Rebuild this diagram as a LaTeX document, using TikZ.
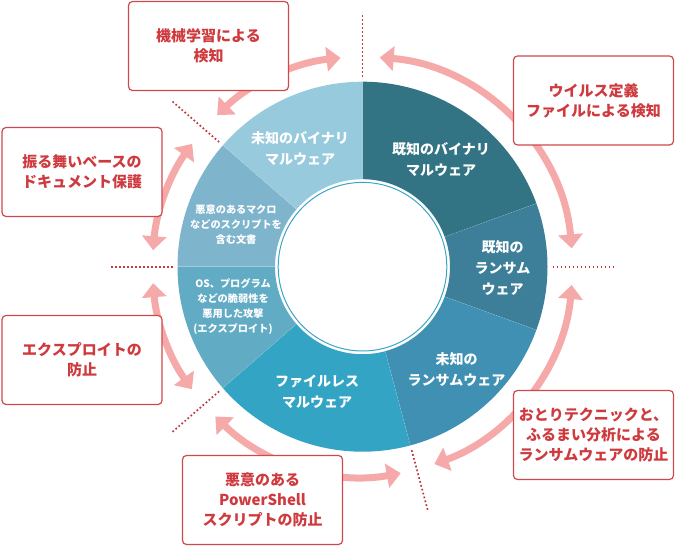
\documentclass[tikz,border=0pt]{standalone}
\usepackage{fontspec}
\setmainfont{Noto Sans CJK JP}
\usetikzlibrary{arrows.meta}
\definecolor{ckb}{HTML}{327384}
\definecolor{ckr}{HTML}{3D7E99}
\definecolor{cur}{HTML}{3F90B3}
\definecolor{cfl}{HTML}{33A4C4}
\definecolor{cos}{HTML}{62ABC5}
\definecolor{cmc}{HTML}{7FB4CD}
\definecolor{cub}{HTML}{98CADD}
\definecolor{ring}{HTML}{3AA6C6}
\definecolor{pinkarrow}{HTML}{F5A9A9}
\definecolor{boxred}{HTML}{D0484C}
\definecolor{textred}{HTML}{CF3A3E}
\definecolor{dotred}{HTML}{C0393D}
\tikzset{
  box/.style={draw=boxred, line width=1.2pt, fill=white, rounded corners=4pt,
    text=textred, font=\bfseries\fontsize{15}{20}\selectfont, align=center,
    inner sep=0pt, minimum width=160pt, minimum height=89pt},
  seglabel/.style={text=white, font=\bfseries\fontsize{14}{21}\selectfont, align=center, inner sep=0pt},
  smalllabel/.style={text=white, font=\bfseries\fontsize{10.2}{15}\selectfont, align=center, inner sep=0pt},
  parrow/.style={draw=pinkarrow, line width=7pt,
    {Triangle[width=24pt,length=14pt]}-{Triangle[width=24pt,length=14pt]}},
  dotline/.style={draw=dotred, line width=1.7pt, dash pattern=on 1.7pt off 2.3pt},
  segedge/.style={draw=white, opacity=0.25, line width=0.6pt, dash pattern=on 1pt off 1pt}
}
\begin{document}
\begin{tikzpicture}[x=1pt,y=1pt]
\useasboundingbox (0,0) rectangle (675,546);
\coordinate (C) at (362.5,279.3);
\begin{scope}[shift={(C)}]
  % donut segments
  \foreach \a/\b/\c in {20/90/ckb, -20/20/ckr, -75/-20/cur, -139/-75/cfl, 180/221/cos, 139/180/cmc, 90/139/cub}{
    \fill[\c] (\a:87.5) arc[start angle=\a, end angle=\b, radius=87.5]
      -- (\b:185) arc[start angle=\b, end angle=\a, radius=185] -- cycle;
  }
  \foreach \a in {20,-20,-75,221,180,139}{
    \draw[segedge] (\a:88) -- (\a:185);
  }
  \draw[ring, line width=1pt] (0,0) circle[radius=84.3];
  % dotted separators
  \foreach \a in {90,0,-75,221,180,139}{
    \draw[dotline] (\a:190) -- (\a:253);
  }
  % pink double arrows
  \draw[parrow] (85.3:210) arc[start angle=85.3, end angle=5, radius=210];
  \draw[parrow] (-5:210) arc[start angle=-5, end angle=-70, radius=210];
  \draw[parrow] (-79.5:210) arc[start angle=-79.5, end angle=-134.5, radius=210];
  \draw[parrow] (215.7:210) arc[start angle=215.7, end angle=184.5, radius=210];
  \draw[parrow] (175.5:210) arc[start angle=175.5, end angle=144.2, radius=210];
  \draw[parrow] (133.8:210) arc[start angle=133.8, end angle=96, radius=210];
\end{scope}
% segment labels
\node[seglabel] (lub) at (300,397.5) {未知のバイナリ\\マルウェア};
\node[seglabel] (lkb) at (441,386.5) {既知のバイナリ\\マルウェア};
\node[seglabel] (lkr) at (502.5,278) {既知の\\ランサム\\ウェア};
\node[seglabel] (lur) at (456.5,176) {未知の\\ランサムウェア};
\node[seglabel] (lfl) at (317,154) {ファイルレス\\マルウェア};
\node[smalllabel] (los) at (233,239) {OS、プログラム\\などの脆弱性を\\悪用した攻撃\\(エクスプロイト)};
\node[smalllabel] (lmc) at (236,321) {悪意のあるマクロ\\などのスクリプトを\\含む文書};
% boxes
\node[box] (b1) at (208.5,500) {機械学習による\\検知};
\node[box] (b2) at (82,374) {振る舞いベースの\\ドキュメント保護};
\node[box] (b3) at (593.5,445.5) {ウイルス定義\\ファイルによる検知};
\node[box] (b4) at (82,186) {エクスプロイトの\\防止};
\node[box] (b5) at (593.5,111) {おとりテクニックと、\\ふるまい分析による\\ランサムウェアの防止};
\node[box] (b6) at (262.5,46) {悪意のある\\PowerShell\\スクリプトの防止};
\end{tikzpicture}
\end{document}
